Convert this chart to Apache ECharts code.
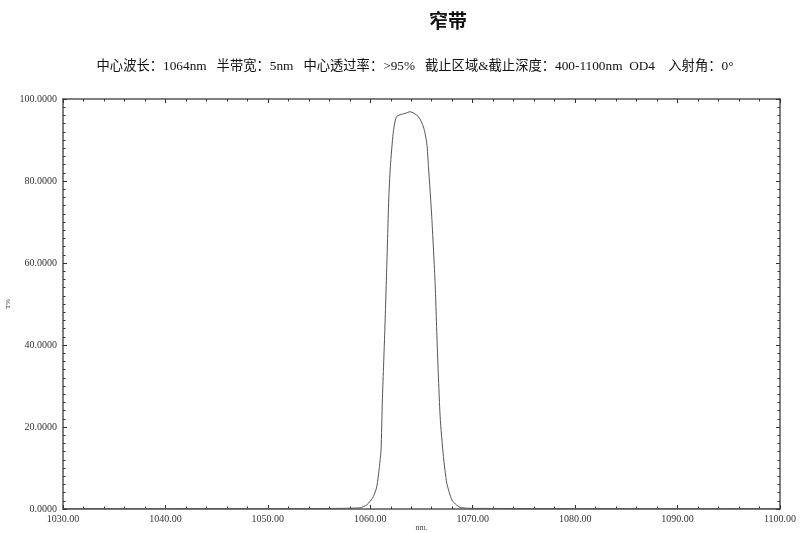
<!DOCTYPE html>
<html><head><meta charset="utf-8">
<script src="https://cdn.jsdelivr.net/npm/echarts@6/dist/echarts.min.js"></script>
<style>html,body{margin:0;padding:0;background:#fff}#c{width:800px;height:533px}</style>
</head><body><div id="c"></div>
<script>
const titleText = '窄带';
const subtitleText = '中心波长：1064nm   半带宽：5nm   中心透过率：>95%   截止区域&截止深度：400-1100nm  OD4    入射角：0°';
const wavelength = [1030, 1040, 1050, 1055, 1057, 1058, 1059.0, 1059.66, 1060.3, 1060.63, 1060.89, 1061.05, 1061.18, 1061.41, 1061.61, 1061.80, 1061.96, 1062.23, 1062.45, 1062.65, 1063.40, 1063.89, 1064.70, 1065.19, 1065.52, 1065.68, 1066.0, 1066.33, 1066.55, 1066.82, 1067.14, 1067.47, 1067.96, 1068.4, 1068.77, 1069.4, 1070, 1080, 1090, 1100];
const transmission = [0.1, 0.1, 0.1, 0.12, 0.15, 0.2, 0.3, 1.0, 3.0, 5.4, 10.3, 14.4, 26.6, 42.9, 59.1, 75.4, 83.5, 91.6, 94.9, 95.9, 96.5, 96.9, 95.7, 93.2, 89.2, 83.5, 71.3, 55.0, 38.8, 22.5, 12.8, 6.3, 2.2, 1.0, 0.4, 0.2, 0.15, 0.1, 0.1, 0.1];
const xMin = 1030, xMax = 1100, xStep = 10;
const yMin = 0, yMax = 100, yStep = 20;

const axisColor = '#555';
const labelFont = {fontFamily: 'Liberation Serif, DejaVu Serif, serif', fontSize: 10, color: '#333'};
const pts = wavelength.map((w, i) => [w, transmission[i]]);

function xAx(pos, show) {
  return {type: 'value', position: pos, min: xMin, max: xMax, interval: xStep,
    axisLine: {show: true, onZero: false, lineStyle: {color: axisColor, width: 1.5}},
    axisTick: {show: true, inside: true, length: 4, lineStyle: {color: '#333'}},
    minorTick: {show: true, splitNumber: 5, length: 2.5, lineStyle: {color: '#333'}},
    splitLine: {show: false},
    axisLabel: show ? Object.assign({margin: 5, formatter: v => v.toFixed(2)}, labelFont) : {show: false},
    name: show ? 'nm.' : '', nameLocation: 'middle', nameGap: 15, nameMoveOverlap: false,
    nameTextStyle: {fontFamily: 'Liberation Serif, serif', fontSize: 8, color: '#444'}
  };
}
function yAx(pos, show) {
  return {type: 'value', position: pos, min: yMin, max: yMax, interval: yStep,
    axisLine: {show: true, onZero: false, lineStyle: {color: axisColor, width: 1.5}},
    axisTick: {show: true, inside: true, length: 4, lineStyle: {color: '#333'}},
    minorTick: {show: true, splitNumber: 10, length: 2.5, lineStyle: {color: '#333'}},
    splitLine: {show: false},
    axisLabel: show ? Object.assign({margin: 6, formatter: v => v.toFixed(4)}, labelFont) : {show: false},
    name: show ? 'T%' : '', nameLocation: 'middle', nameGap: 51, nameRotate: 90, nameMoveOverlap: false,
    nameTextStyle: {fontFamily: 'Liberation Serif, serif', fontSize: 7, color: '#444'}
  };
}

const chart = echarts.init(document.getElementById('c'), null, {renderer: 'canvas'});
chart.setOption({
  animation: false,
  backgroundColor: '#fff',
  title: [
    {text: titleText, left: 443, top: 6, textAlign: 'center',
     textStyle: {fontFamily: 'Noto Sans CJK SC', fontSize: 19, fontWeight: 'bold', color: '#111'}},
    {text: subtitleText, left: 410, top: 55, textAlign: 'center',
     textStyle: {fontFamily: 'Liberation Serif, Noto Sans CJK SC', fontSize: 13.3, fontWeight: 'normal', color: '#111'}}
  ],
  grid: {left: 63, right: 20, top: 99, bottom: 24, containLabel: false, outerBoundsMode: 'none'},
  xAxis: [xAx('bottom', true), xAx('top', false)],
  yAxis: [yAx('left', true), yAx('right', false)],
  series: [{
    type: 'line', data: pts, xAxisIndex: 0, yAxisIndex: 0,
    showSymbol: false, smooth: 0.2,
    lineStyle: {color: '#555', width: 1}
  }]
});
</script></body></html>
